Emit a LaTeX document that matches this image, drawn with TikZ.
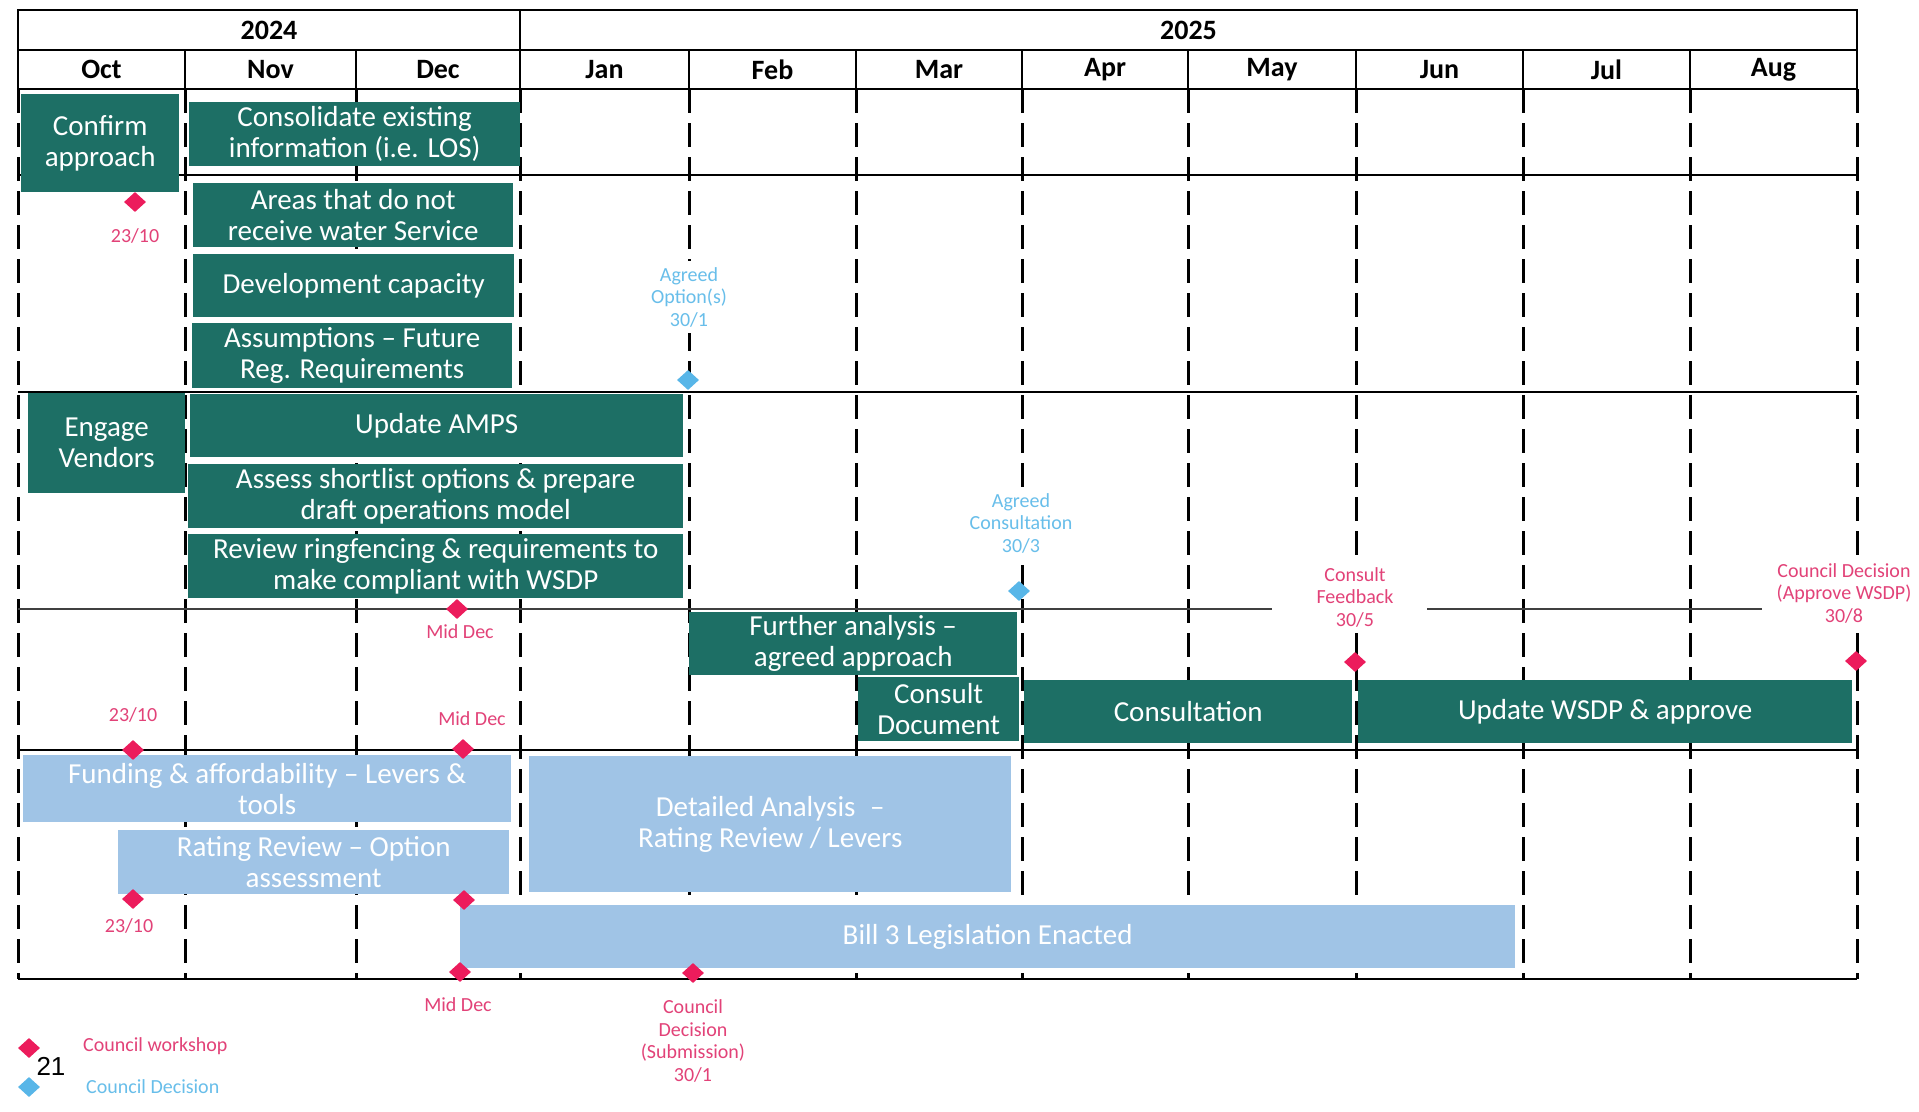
\documentclass[tikz,border=0pt]{standalone}
\usepackage{fontspec}
\setmainfont{Carlito}
\newfontfamily\pagenumfont{Liberation Sans}
\usetikzlibrary{shapes.geometric}

\definecolor{planGreen}{RGB}{29,111,101}
\definecolor{planBlue}{RGB}{160,196,230}
\definecolor{markPink}{RGB}{236,28,92}
\definecolor{labPink}{RGB}{226,66,120}
\definecolor{markBlue}{RGB}{88,182,232}
\definecolor{labBlue}{RGB}{104,190,234}

\begin{document}
\begin{tikzpicture}[x=1pt,y=-1pt,
  task/.style={fill=planGreen, text=white, inner sep=0pt, align=center,
    anchor=north west, font=\fontsize{29}{31}\selectfont},
  lbtask/.style={task, fill=planBlue},
  hdrcell/.style={draw=black, line width=2.5pt, inner sep=0pt,
    font=\fontsize{28}{30}\selectfont\bfseries},
  gridv/.style={line width=3pt, dash pattern=on 24pt off 10pt},
  rule/.style={line width=2.5pt},
  wsmark/.style={shape=diamond, fill=markPink, minimum width=22pt,
    minimum height=20pt, inner sep=0pt},
  cdmark/.style={wsmark, fill=markBlue},
  wslab/.style={text=labPink, align=center, fill=white, inner sep=6pt,
    font=\fontsize{20}{22.5}\selectfont},
  cdlab/.style={wslab, text=labBlue}]

\useasboundingbox[fill=white] (0,0) rectangle (1919,1111);

% ---------- month grid ----------
\foreach \x in {18,185,356,520,689,856,1022,1188,1356,1523,1690,1857}
  \draw[gridv] (\x,89) -- (\x,979);
\draw[rule] (18,175) -- (1857,175);
\draw[rule] (18,392) -- (1857,392);
\draw[rule, draw=black!75] (18,609) -- (1272,609);
\draw[rule, draw=black!75] (1427,609) -- (1762,609);
\draw[rule] (18,750) -- (1857,750);
\draw[rule] (18,979) -- (1857,979);

% ---------- header ----------
\node[hdrcell, minimum width=502pt, minimum height=40pt] (y2024) at (269,30) {2024};
\node[hdrcell, minimum width=1337pt, minimum height=40pt] (y2025) at (1188.5,30) {2025};
\foreach \a/\b/\m in {18/185/Oct,185/356/Nov,356/520/Dec,520/689/Jan,
    689/856/Feb,856/1022/Mar,1022/1188/Apr,1188/1356/May,1356/1523/Jun,
    1523/1690/Jul,1690/1857/Aug}
  \node[hdrcell, minimum width={\b-\a}, minimum height=39pt] (m-\m)
    at ({(\a+\b)/2},69.5) {\m};

% ---------- workstream 1 ----------
\node[task, minimum width=158pt, minimum height=98pt] (confirm) at (21,94) {Confirm\\approach};
\node[task, minimum width=331pt, minimum height=64pt] (consol) at (189,102) {Consolidate existing\\information (i.e. LOS)};
\node[task, minimum width=320pt, minimum height=64pt] (areas) at (193,183) {Areas that do not\\receive water Service};
\node[task, minimum width=321pt, minimum height=63pt] (devcap) at (193,254) {Development capacity};
\node[task, minimum width=320pt, minimum height=65pt] (assume) at (192,323) {Assumptions -- Future\\Reg. Requirements};

% ---------- workstream 2 ----------
\node[task, minimum width=157pt, minimum height=100pt] (vendors) at (28,393) {Engage\\Vendors};
\node[task, minimum width=493pt, minimum height=63pt] (amps) at (190,394) {Update AMPS};
\node[task, minimum width=495pt, minimum height=64pt] (assess) at (188,464) {Assess shortlist options \& prepare\\draft operations model};
\node[task, minimum width=495pt, minimum height=64pt] (ringf) at (188,534) {Review ringfencing \& requirements to\\make compliant with WSDP};

% ---------- workstream 3 ----------
\node[task, minimum width=328pt, minimum height=63pt] (further) at (689,612) {Further analysis --\\agreed approach};
\node[task, minimum width=161pt, minimum height=64pt] (cdoc) at (858,677) {Consult\\Document};
\node[task, minimum width=328pt, minimum height=63pt] (consult) at (1024,680) {Consultation};
\node[task, minimum width=494pt, minimum height=63pt] (wsdp) at (1358,680) {Update WSDP \& approve};

% ---------- workstream 4 ----------
\node[lbtask, minimum width=488pt, minimum height=67pt] (funding) at (23,755) {Funding \& affordability -- Levers \&\\tools};
\node[lbtask, minimum width=391pt, minimum height=64pt] (rating) at (118,830) {Rating Review -- Option\\assessment};
\node[lbtask, minimum width=482pt, minimum height=136pt] (detail) at (529,756) {Detailed Analysis\enspace--\\Rating Review / Levers};
\node[lbtask, minimum width=1055pt, minimum height=63pt] (bill) at (460,905) {Bill 3 Legislation Enacted};

% ---------- milestone labels ----------
\node[wslab] (l-ws1) at (135,236) {23/10};
\node[cdlab] (l-opt) at (689,297) {Agreed\\Option(s)\\30/1};
\node[wslab] (l-ws2) at (460,632) {Mid Dec};
\node[cdlab] (l-cons) at (1021,523) {Agreed\\Consultation\\30/3};
\node[wslab] (l-fb) at (1355,597) {Consult\\Feedback\\30/5};
\node[wslab, inner sep=4pt] (l-appr) at (1844,593) {Council Decision\\(Approve WSDP)\\30/8};
\node[wslab] (l-ws3) at (133,715) {23/10};
\node[wslab] (l-ws4) at (472,719) {Mid Dec};
\node[wslab] (l-ws5) at (129,926) {23/10};
\node[wslab] (l-ws6) at (458,1005) {Mid Dec};
\node[wslab] (l-sub) at (693,1041) {Council\\Decision\\(Submission)\\30/1};

% ---------- milestone markers ----------
\node[wsmark] (d-ws1) at (135,202) {};
\node[cdmark] (d-opt) at (688,380) {};
\node[wsmark] (d-ws2) at (457,609) {};
\node[cdmark] (d-cons) at (1019,591) {};
\node[wsmark] (d-fb) at (1355,662) {};
\node[wsmark] (d-appr) at (1856,661) {};
\node[wsmark] (d-ws3) at (133,750) {};
\node[wsmark] (d-ws4) at (463,749) {};
\node[wsmark] (d-ws5) at (133,899) {};
\node[wsmark] (d-ws6) at (464,900) {};
\node[wsmark] (d-ws7) at (460,972) {};
\node[wsmark] (d-sub) at (693,973) {};

% ---------- legend ----------
\node[wsmark] (key-ws) at (29,1048) {};
\node[cdmark] (key-cd) at (29,1087) {};
\node[anchor=west, text=labPink, inner sep=0pt, font=\fontsize{20}{22.5}\selectfont] (key-ws-t) at (83,1046) {Council workshop};
\node[anchor=west, text=labBlue, inner sep=0pt, font=\fontsize{20}{22.5}\selectfont] (key-cd-t) at (86,1087) {Council Decision};
\node[inner sep=0pt, font=\pagenumfont\fontsize{26}{28}\selectfont] (pageno) at (51,1066) {21};

\end{tikzpicture}
\end{document}
